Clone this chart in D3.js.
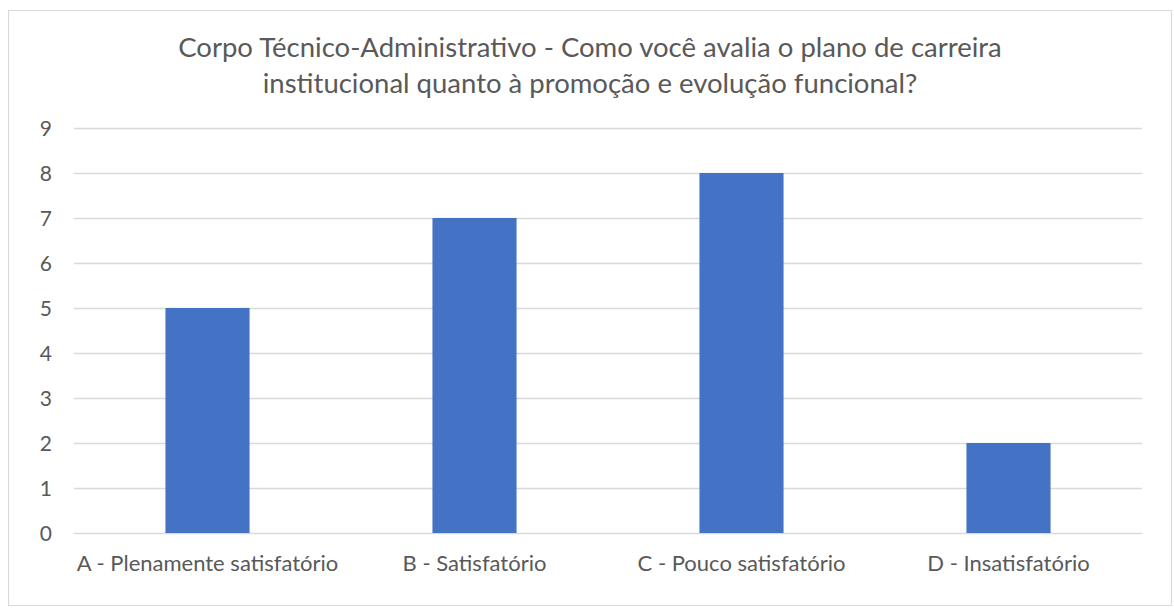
<!DOCTYPE html>
<html>
<head>
<meta charset="utf-8">
<script src="https://cdn.jsdelivr.net/npm/d3@7"></script>
<style>
  body { margin: 0; background: #fff; }
  text { font-family: Lato, "Open Sans", sans-serif; fill: #595959; }
</style>
</head>
<body>
<div id="chart"></div>
<script>
// data
const categories = ["A - Plenamente satisfatório", "B - Satisfatório", "C - Pouco satisfatório", "D - Insatisfatório"];
const values = [5, 7, 8, 2];
const yTicks = [0, 1, 2, 3, 4, 5, 6, 7, 8, 9];
const titleLines = [
    "Corpo Técnico-Administrativo - Como você avalia o plano de carreira",
    "institucional quanto à promoção e evolução funcional?"
];

const width = 1174, height = 608;
const margin = { top: 128, right: 32, bottom: 75, left: 74 };

const svg = d3.select("#chart")
    .append("svg")
    .attr("width", width)
    .attr("height", height);

// chart border
svg.append("rect")
    .attr("x", 8.5)
    .attr("y", 10.5)
    .attr("width", 1163)
    .attr("height", 595)
    .attr("fill", "#fff")
    .attr("stroke", "#d9d9d9");

// title
svg.append("g")
    .selectAll("text")
    .data(titleLines)
    .enter()
    .append("text")
    .attr("x", 590)
    .attr("y", function(d, i) { return 57 + i * 36; })
    .attr("text-anchor", "middle")
    .style("font-size", "27.5px")
    .text(d => d);

const x = d3.scaleBand()
    .domain(categories)
    .range([margin.left, width - margin.right]);

const y = d3.scaleLinear()
    .domain([0, 9])
    .range([height - margin.bottom, margin.top]);

// gridlines
svg.append("g")
    .selectAll("line")
    .data(yTicks)
    .enter()
    .append("line")
    .attr("x1", margin.left)
    .attr("x2", width - margin.right)
    .attr("y1", d => Math.round(y(d)) + 0.5)
    .attr("y2", d => Math.round(y(d)) + 0.5)
    .attr("stroke", "#d9d9d9")
    .attr("stroke-width", 1.5);

// y labels
svg.append("g")
    .selectAll("text")
    .data(yTicks)
    .enter()
    .append("text")
    .attr("x", 52)
    .attr("y", d => y(d))
    .attr("dy", "0.36em")
    .attr("text-anchor", "end")
    .style("font-size", "21px")
    .text(d => d);

// bars
const barW = x.bandwidth() * 0.315;
svg.append("g")
    .selectAll("rect")
    .data(values)
    .enter()
    .append("rect")
    .attr("x", (d, i) => x(categories[i]) + x.bandwidth() / 2 - barW / 2)
    .attr("y", d => y(d))
    .attr("width", barW)
    .attr("height", d => y(0) - y(d))
    .attr("fill", "#4472c4");

// x labels
svg.append("g")
    .selectAll("text")
    .data(categories)
    .enter()
    .append("text")
    .attr("x", d => x(d) + x.bandwidth() / 2)
    .attr("y", 571)
    .attr("text-anchor", "middle")
    .style("font-size", "22px")
    .text(d => d);
</script>
</body>
</html>
